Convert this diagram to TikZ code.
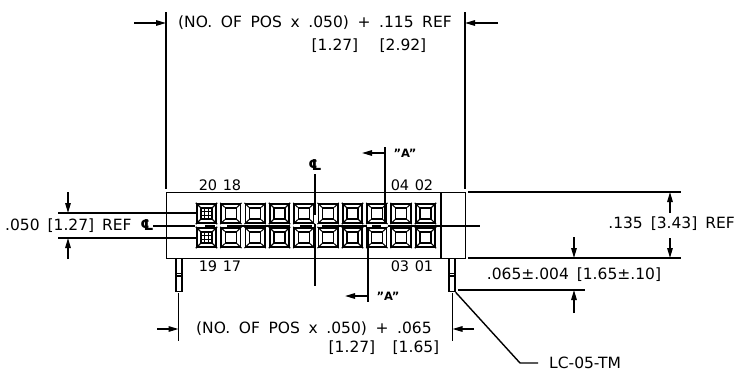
\documentclass[tikz,border=0pt]{standalone}
\usepackage{fontspec}
\setmainfont{DejaVu Sans}
\usetikzlibrary{arrows.meta}
\newcommand{\wgap}{\hspace{8.6pt}}
\tikzset{
  ln/.style={draw=black,line width=1.4pt},
  thin ln/.style={draw=black,line width=1.1pt},
  dim/.style={ln,-{Triangle[length=10pt,width=5.5pt]}},
  lbl/.style={inner sep=0pt,font=\fontsize{15.5}{15.5}\selectfont,text=black},
  small lbl/.style={inner sep=0pt,font=\fontsize{14.5}{14.5}\selectfont,text=black},
  cl/.style={inner sep=0pt,font=\fontsize{15}{15}\selectfont\bfseries,text=black},
  sec/.style={inner sep=0pt,font=\fontsize{11.5}{12}\selectfont\bfseries,text=black},
  pinbox/.style={draw=black,line width=1.8pt,minimum size=19.5pt,inner sep=0pt,fill=white},
}
\begin{document}
\begin{tikzpicture}[x=1pt,y=-1pt]
\useasboundingbox[fill=white] (0,0) rectangle (740,376);
% body
\node[draw=black,line width=1.4pt,minimum width=299pt,minimum height=66pt,inner sep=0pt,anchor=north west] (body) at (166,192) {};
\draw[ln] (441,192) -- (441,258);
% pins
\foreach \i in {0,...,9}{
 \foreach \r/\yy in {t/213.5,b/237.5}{
  \pgfmathsetmacro{\xx}{206.5+24.33*\i}
  \node[pinbox] (p\r\i) at (\xx,\yy) {};
  \draw[thin ln] ([shift={(-5.5pt,-5.5pt)}]p\r\i.center) rectangle ([shift={(5.5pt,5.5pt)}]p\r\i.center);
  \draw[thin ln] (p\r\i.north west) -- ++(4.5,4.5) (p\r\i.north east) -- ++(-4.5,4.5)
                 (p\r\i.south west) -- ++(4.5,-4.5) (p\r\i.south east) -- ++(-4.5,-4.5);
 }
}
\foreach \r in {t,b}{
 \draw[line width=.8pt] 
   ([shift={(-5.5pt,-2pt)}]p\r0.center) -- ([shift={(5.5pt,-2pt)}]p\r0.center)
   ([shift={(-5.5pt,2pt)}]p\r0.center) -- ([shift={(5.5pt,2pt)}]p\r0.center)
   ([shift={(-2pt,-5.5pt)}]p\r0.center) -- ([shift={(-2pt,5.5pt)}]p\r0.center)
   ([shift={(2pt,-5.5pt)}]p\r0.center) -- ([shift={(2pt,5.5pt)}]p\r0.center);
}
% pin tails
\node[draw=black,line width=1.3pt,minimum width=6pt,minimum height=33pt,inner sep=0pt,anchor=north] (tl) at (179,258) {};
\node[draw=black,line width=1.3pt,minimum width=6pt,minimum height=33pt,inner sep=0pt,anchor=north] (tr) at (452,258) {};
\draw[thin ln] (176,273.5)--(182,273.5) (176,276)--(182,276) (449,273.5)--(455,273.5) (449,276)--(455,276);
% top dimension
\coordinate (et1) at (166,12); \coordinate (et2) at (166,189);
\coordinate (et3) at (465,12); \coordinate (et4) at (465,189);
\draw[ln] (et1)--(et2) (et3)--(et4);
\coordinate (at1) at (134,23); \coordinate (at2) at (166,23);
\coordinate (at3) at (498,23); \coordinate (at4) at (465,23);
\draw[dim] (at1)--(at2); \draw[dim] (at3)--(at4);
\node[lbl,anchor=west] (t1) at (178,23) {(NO.\wgap OF\wgap POS\wgap x\wgap .050)\wgap +\wgap .115\wgap REF};
\node[lbl] (t2) at (335,46) {[1.27]};
\node[lbl] (t3) at (403,46) {[2.92]};
% right dimension lines
\coordinate (r1) at (468,192); \coordinate (r2) at (681,192);
\coordinate (r3) at (468,258); \coordinate (r4) at (681,258);
\draw[ln] (r1)--(r2) (r3)--(r4);
\coordinate (a1) at (670,213); \coordinate (a2) at (670,192);
\coordinate (a3) at (670,238); \coordinate (a4) at (670,258);
\draw[dim] (a1)--(a2); \draw[dim] (a3)--(a4);
\node[lbl,anchor=east] (t4) at (735,224) {.135\hspace{3pt} [3.43]\hspace{3pt} REF};
% .065 dim
\coordinate (s1) at (458,290); \coordinate (s2) at (585,290);
\draw[ln] (s1)--(s2);
\coordinate (b1) at (574,237); \coordinate (b2) at (574,258);
\coordinate (b3) at (574,313); \coordinate (b4) at (574,290);
\draw[dim] (b1)--(b2); \draw[dim] (b3)--(b4);
\node[lbl] (t5) at (574,275) {.065±.004\hspace{3pt} [1.65±.10]};
% left dim
\coordinate (l1) at (58,213); \coordinate (l2) at (196,213);
\coordinate (l3) at (58,238); \coordinate (l4) at (196,238);
\draw[ln] (l1)--(l2) (l3)--(l4);
\coordinate (d1) at (68,192); \coordinate (d2) at (68,213);
\coordinate (d3) at (68,259); \coordinate (d4) at (68,238);
\draw[dim] (d1)--(d2); \draw[dim] (d3)--(d4);
\node[lbl,anchor=west,fill=white,inner ysep=1pt] (t6) at (5,226) {.050\hspace{3pt} [1.27]\hspace{3pt} REF};
\node[cl] (cl1) at (147,225) {℄};
% centre lines
\coordinate (h1) at (153,226); \coordinate (h2) at (195,226);
\coordinate (h3) at (205,226); \coordinate (h4) at (215,226);
\coordinate (h5) at (227,226); \coordinate (h6) at (290,226);
\coordinate (h7) at (300,226); \coordinate (h8) at (312,226);
\coordinate (h9) at (322,226); \coordinate (h10) at (367,226);
\coordinate (h11) at (372,226); \coordinate (h12) at (381,226);
\coordinate (h13) at (388,226); \coordinate (h14) at (480,226);
\draw[ln] (h1)--(h2) (h3)--(h4) (h5)--(h6) (h7)--(h8) (h9)--(h10) (h11)--(h12) (h13)--(h14);
\node[cl] (cl2) at (315,165) {℄};
\coordinate (v1) at (315,174); \coordinate (v2) at (315,215);
\coordinate (v3) at (315,224); \coordinate (v4) at (315,286);
\draw[ln] (v1)--(v2) (v3)--(v4);
% section A
\coordinate (sa1) at (385,147); \coordinate (sa2) at (385,223);
\coordinate (sa3) at (385,153); \coordinate (sa4) at (362,153);
\draw[ln] (sa1)--(sa2); \draw[dim] (sa3)--(sa4);
\node[sec] (sat) at (405,153) {\symbol{34}A\symbol{34}};
\coordinate (sb1) at (368,227); \coordinate (sb2) at (368,302);
\coordinate (sb3) at (368,296); \coordinate (sb4) at (345,296);
\draw[ln] (sb1)--(sb2); \draw[dim] (sb3)--(sb4);
\node[sec] (sbt) at (388,296) {\symbol{34}A\symbol{34}};
% numbers
\node[small lbl] (n20) at (208,185) {20};
\node[small lbl] (n18) at (232,185) {18};
\node[small lbl] (n19) at (208,266) {19};
\node[small lbl] (n17) at (232,266) {17};
\node[small lbl] (n04) at (400,185) {04};
\node[small lbl] (n02) at (424,185) {02};
\node[small lbl] (n03) at (400,266) {03};
\node[small lbl] (n01) at (424,266) {01};
% bottom dimension
\coordinate (eb1) at (178.5,293); \coordinate (eb2) at (178.5,341);
\coordinate (eb3) at (452.5,293); \coordinate (eb4) at (452.5,341);
\draw[ln] (eb1)--(eb2) (eb3)--(eb4);
\coordinate (ab1) at (157,329); \coordinate (ab2) at (178.5,329);
\coordinate (ab3) at (474,329); \coordinate (ab4) at (452.5,329);
\draw[dim] (ab1)--(ab2); \draw[dim] (ab3)--(ab4);
\node[lbl,anchor=west] (t7) at (196,329) {(NO.\wgap OF\wgap POS\wgap x\wgap .050)\wgap +\wgap .065};
\node[lbl] (t8) at (352,348) {[1.27]};
\node[lbl] (t9) at (416,348) {[1.65]};
% leader
\node[lbl,anchor=west] (lc) at (549,363) {LC-05-TM};
\coordinate (le1) at (520,363); \coordinate (le2) at (538,363);
\draw[ln] (tr.south east) -- (le1) -- (le2);
\end{tikzpicture}
\end{document}
